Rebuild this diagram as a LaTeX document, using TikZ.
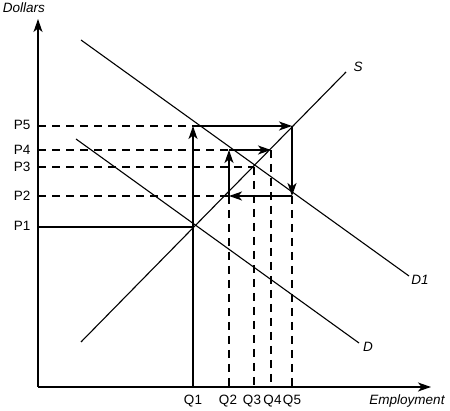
\documentclass[tikz,border=0pt]{standalone}
\usepackage{fontspec}
\setmainfont{Liberation Sans}
\usetikzlibrary{arrows.meta}
\begin{document}
\begin{tikzpicture}[x=1pt,y=-1pt,
  line width=1.1pt,
  arr/.style={-{Stealth[length=13pt,width=9pt,inset=3.5pt]}},
  dsh/.style={dash pattern=on 8pt off 6pt},
  lbl/.style={font=\fontsize{13.5}{15}\selectfont, inner sep=0pt},
  ilbl/.style={font=\fontsize{13.5}{15}\selectfont\itshape, inner sep=0pt}]
\useasboundingbox (0,0) rectangle (450,411);
% axes
\coordinate (O) at (38,387);
\coordinate (Ytop) at (38,19);
\coordinate (Xend) at (431,387);
\draw[arr] (O) -- (Ytop);
\draw[arr] (O) -- (Xend);
\node[ilbl] (ylab) at (24,8) {Dollars};
\node[ilbl] (xlab) at (407,401) {Employment};
% axis points
\coordinate (q1) at (193,387);
\coordinate (q2) at (229,387);
\coordinate (q3) at (254,387);
\coordinate (q4) at (271,387);
\coordinate (q5) at (292,387);
\coordinate (p1) at (38,227);
\coordinate (p2) at (38,196);
\coordinate (p3) at (38,167);
\coordinate (p4) at (38,150);
\coordinate (p5) at (38,126);
% labels
\node[lbl,anchor=north] (Q1l) at (193,395) {Q1};
\node[lbl,anchor=north] (Q2l) at (228,395) {Q2};
\node[lbl,anchor=north] (Q3l) at (252,395) {Q3};
\node[lbl,anchor=north] (Q4l) at (272.5,395) {Q4};
\node[lbl,anchor=north] (Q5l) at (292,395) {Q5};
\node[lbl,anchor=east] (P1l) at (31,226) {P1};
\node[lbl,anchor=east] (P2l) at (31,196) {P2};
\node[lbl,anchor=east] (P3l) at (31,167) {P3};
\node[lbl,anchor=east] (P4l) at (31,150) {P4};
\node[lbl,anchor=east] (P5l) at (31,125) {P5};
% curves
\coordinate (S0) at (81,342);
\coordinate (S1) at (346,72);
\coordinate (D10) at (81,40);
\coordinate (D11) at (409,276);
\coordinate (D0) at (76,139);
\coordinate (D1e) at (359,343);
\draw (S0) -- (S1);
\draw (D10) -- (D11);
\draw (D0) -- (D1e);
\node[ilbl] (Slab) at (358,67) {S};
\node[ilbl] (D1lab) at (420,280) {D1};
\node[ilbl] (Dlab) at (368,347) {D};
% corner points
\coordinate (A) at (193,227);
\coordinate (B) at (193,126);
\coordinate (C) at (292,126);
\coordinate (E) at (292,196);
\coordinate (F) at (229,196);
\coordinate (G) at (229,150);
\coordinate (H) at (271,150);
\coordinate (K) at (254,167);
% path
\draw (p1) -- (A);
\draw[arr] (q1) -- (B);
\draw[dsh] (p5) -- (B);
\draw[arr] (B) -- (C);
\draw[arr] (C) -- (E);
\draw[dsh] (E) -- (q5);
\draw[arr] (E) -- (F);
\draw[dsh] (p2) -- (F);
\draw[dsh] (F) -- (q2);
\draw[arr] (F) -- (G);
\draw[dsh] (p4) -- (G);
\draw[arr] (G) -- (H);
\draw[dsh] (H) -- (q4);
\draw[dsh] (p3) -- (K);
\draw[dsh] (K) -- (q3);
\end{tikzpicture}
\end{document}
